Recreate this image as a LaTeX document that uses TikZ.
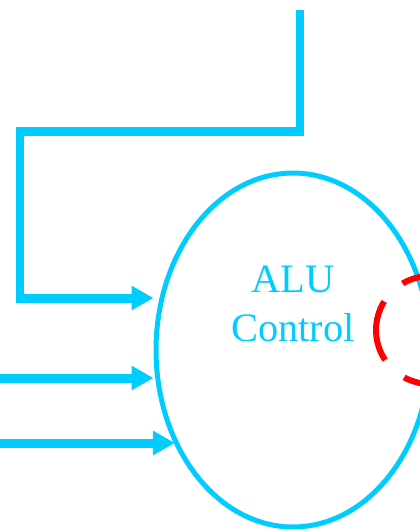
\documentclass[tikz,border=0pt]{standalone}
\usepackage{fontspec}
\setmainfont{Liberation Serif}
\usepackage{xcolor}
\usetikzlibrary{positioning,shapes.geometric,arrows.meta}
\definecolor{wirecyan}{RGB}{0,204,255}

\begin{document}
\begin{tikzpicture}[x=0.02cm,y=-0.02cm,
  wire/.style={draw=wirecyan,line width=0.18cm},
  wirearrow/.style={wire,-{Triangle[length=0.44cm,width=0.46cm]}},
  ctrlbox/.style={ellipse,draw=wirecyan,line width=0.1cm,minimum width=5.48cm,minimum height=7.08cm,inner sep=0pt},
  dashring/.style={draw=red,line width=0.12cm,dash pattern=on 1.24cm off 0.52cm,dash phase=0.73cm}]
  \useasboundingbox (0,0) rectangle (420,532);
  % ALU control unit
  \node[ctrlbox] (alu) at (293,350) {};
  \node[text=wirecyan,font=\fontsize{23}{28}\selectfont,align=center,inner sep=0pt] (alulabel) at (293,304) {ALU\\Control};
  % input wires
  \coordinate (aluop) at (300,10);
  \coordinate (turn) at (20,131);
  \coordinate (bend) at (20,298);
  \coordinate (funct) at (0,378);
  \coordinate (extra) at (0,443);
  \draw[wirearrow] (aluop) |- (turn) |- (alu.west |- bend);
  \draw[wirearrow] (funct) -- (alu.west |- funct);
  \draw[wirearrow] (extra) -- (alu.219 |- extra);
  % output ring
  \coordinate (ring) at (430,330);
  \draw[dashring] (ring) circle[radius=1.08cm];
\end{tikzpicture}
\end{document}
